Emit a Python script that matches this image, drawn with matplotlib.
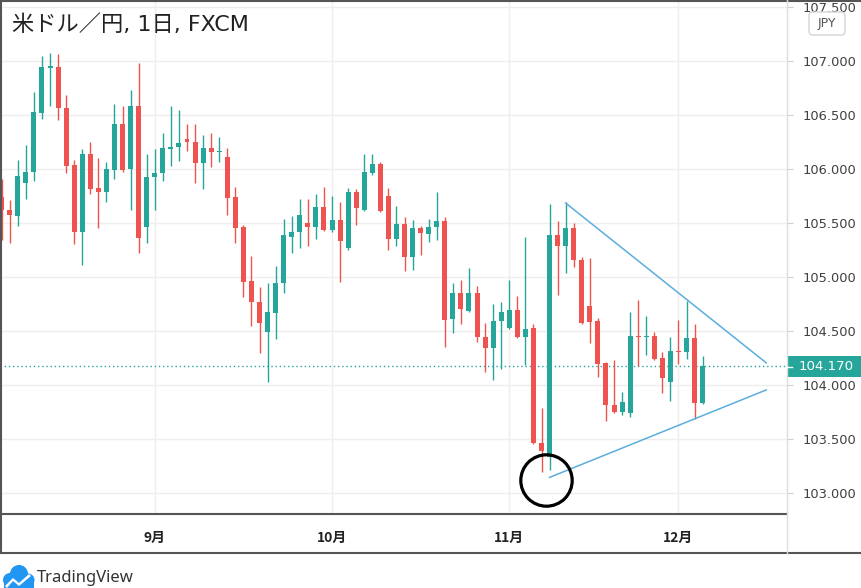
import numpy as np
import pandas as pd
import matplotlib
matplotlib.use('Agg')
import matplotlib.pyplot as plt
from matplotlib.patches import Rectangle, FancyBboxPatch, Circle, Polygon

plt.rcParams['font.family'] = ['DejaVu Sans', 'Noto Sans CJK JP']

# USD/JPY daily candles, FXCM, 2020-08-05 .. 2020-12-04
dates = pd.bdate_range('2020-08-05', '2020-12-04')
opens = [105.74, 105.62, 105.56, 105.87, 105.97, 106.51, 106.93, 106.94, 106.56, 106.03,
         105.41, 106.13, 105.82, 105.78, 105.99, 106.41, 106.00, 106.58, 105.46, 105.92,
         105.96, 106.18, 106.20, 106.27, 106.25, 106.05, 106.19, 106.15, 106.11, 105.74,
         105.46, 104.96, 104.76, 104.49, 104.66, 104.94, 105.37, 105.41, 105.50, 105.46,
         105.64, 105.43, 105.52, 105.26, 105.78, 105.62, 105.96, 106.04, 105.75, 105.35,
         105.49, 105.18, 105.45, 105.39, 105.46, 105.51, 104.61, 104.85, 104.68, 104.85,
         104.44, 104.34, 104.59, 104.52, 104.69, 104.44, 104.52, 103.46, 103.33, 105.38,
         105.28, 105.45, 105.15, 104.73, 104.59, 104.20, 103.81, 103.75, 103.74, 104.45,
         104.44, 104.45, 104.25, 104.02, 104.31, 104.30, 104.43, 103.83]
highs = [105.90, 105.71, 106.08, 106.22, 106.71, 107.04, 107.07, 107.06, 106.68, 106.08,
         106.18, 106.25, 106.10, 106.06, 106.60, 106.58, 106.73, 106.98, 106.13, 106.18,
         106.33, 106.58, 106.54, 106.41, 106.41, 106.31, 106.33, 106.29, 106.19, 105.83,
         105.48, 105.19, 104.90, 104.94, 105.10, 105.53, 105.56, 105.72, 105.72, 105.76,
         105.83, 105.75, 105.69, 105.82, 105.81, 106.13, 106.13, 106.06, 105.82, 105.65,
         105.55, 105.52, 105.47, 105.53, 105.78, 105.55, 104.94, 104.97, 105.08, 104.91,
         104.57, 104.75, 104.76, 104.97, 104.82, 105.37, 104.56, 103.78, 105.67, 105.51,
         105.69, 105.50, 105.18, 105.17, 104.62, 104.21, 104.23, 103.93, 104.67, 104.78,
         104.63, 104.49, 104.30, 104.44, 104.60, 104.77, 104.56, 104.26]
lows = [105.34, 105.31, 105.47, 105.72, 105.88, 106.46, 106.58, 106.45, 105.96, 105.30,
        105.11, 105.76, 105.45, 105.69, 105.90, 105.97, 105.62, 105.22, 105.31, 105.62,
        105.88, 106.02, 106.07, 106.16, 105.87, 105.81, 106.01, 106.06, 105.57, 105.31,
        104.81, 104.54, 104.29, 104.02, 104.42, 104.85, 105.22, 105.26, 105.28, 105.35,
        105.42, 105.41, 104.95, 105.25, 105.48, 105.61, 105.94, 105.60, 105.25, 105.28,
        105.05, 105.06, 105.20, 105.32, 105.34, 104.35, 104.48, 104.56, 104.67, 104.39,
        104.12, 104.04, 104.14, 104.51, 104.43, 104.18, 103.45, 103.19, 103.21, 104.83,
        105.03, 105.09, 104.56, 104.38, 104.07, 103.66, 103.74, 103.72, 103.70, 104.17,
        104.27, 104.23, 103.92, 103.85, 104.19, 104.24, 103.68, 103.82]
closes = [105.62, 105.57, 105.93, 105.97, 106.52, 106.94, 106.95, 106.56, 106.02, 105.41,
          106.13, 105.81, 105.78, 106.00, 106.41, 105.99, 106.58, 105.36, 105.92, 105.96,
          106.19, 106.20, 106.24, 106.25, 106.05, 106.19, 106.15, 106.16, 105.73, 105.45,
          104.95, 104.76, 104.57, 104.67, 104.94, 105.38, 105.41, 105.57, 105.46, 105.64,
          105.43, 105.52, 105.33, 105.78, 105.63, 105.97, 106.04, 105.61, 105.35, 105.49,
          105.18, 105.45, 105.40, 105.46, 105.51, 104.60, 104.85, 104.70, 104.85, 104.44,
          104.34, 104.59, 104.67, 104.69, 104.44, 104.51, 103.46, 103.38, 105.38, 105.28,
          105.45, 105.15, 104.57, 104.58, 104.19, 103.81, 103.75, 103.84, 104.45, 104.44,
          104.45, 104.24, 104.06, 104.31, 104.30, 104.43, 103.83, 104.17]

last_price = 104.170
price_ticks = [103.0, 103.5, 104.0, 104.5, 105.0, 105.5, 106.0, 106.5, 107.0, 107.5]
month_labels = ['9月', '10月', '11月', '12月']

# hand drawn triangle (bar index, price) and the circle mark
upper_line = [(70.0, 105.68), (94.9, 104.20)]
lower_line = [(68.0, 103.14), (94.9, 103.95)]
circle_mark = (67.5, 103.12)

up_col = '#26a69a'
down_col = '#ef5350'

fig = plt.figure(figsize=(8.61, 5.88), dpi=100)
ax = fig.add_axes([0, 74 / 588, 787 / 861, 514.5 / 588])

x = np.arange(len(dates))
o = np.array(opens)
c = np.array(closes)
colors = [up_col if cc >= oo else down_col for oo, cc in zip(o, c)]
ax.vlines(x, lows, highs, colors=colors, linewidth=1, zorder=3)
body_low = np.minimum(o, c)
body_h = np.maximum(np.abs(c - o), 0.012)
ax.bar(x, body_h, bottom=body_low, width=0.62, color=colors, zorder=4)

# month ticks at first bar of each month
month_start = [int(np.argmax(dates.month == m)) for m in [9, 10, 11, 12]]

ax.set_xlim(-0.21, 97.47)
ax.set_ylim(102.801, 107.565)
ax.set_yticks(price_ticks)
ax.set_yticklabels(['%.3f' % p for p in price_ticks])
ax.yaxis.tick_right()
ax.tick_params(axis='y', length=4, color='#cfcfcf', pad=7, labelsize=9.4, labelcolor='#404040')
ax.set_xticks(month_start)
ax.set_xticklabels(month_labels, fontweight='bold', fontsize=10,
                   family=['Noto Sans CJK JP', 'DejaVu Sans'])
ax.tick_params(axis='x', length=0, pad=12, labelcolor='#222222')
ax.grid(True, color='#eeeeee', linewidth=1, zorder=0)
for s in ['left', 'top', 'right']:
    ax.spines[s].set_visible(False)
ax.spines['bottom'].set_color('#555555')
ax.spines['bottom'].set_linewidth(1.5)

ax.axhline(last_price, color=up_col, linestyle=(0, (1, 2)), linewidth=1, zorder=2)

lc = '#5aaede'
ax.plot([p[0] for p in upper_line], [p[1] for p in upper_line], color=lc, linewidth=1.1, zorder=5)
ax.plot([p[0] for p in lower_line], [p[1] for p in lower_line], color=lc, linewidth=1.1, zorder=5)
ax.plot(circle_mark[0], circle_mark[1], marker='o', markersize=37, fillstyle='none',
        markeredgecolor='black', markeredgewidth=2.3, zorder=6)

# overlay in pixel coordinates for frame, title, labels and logo
ov = fig.add_axes([0, 0, 1, 1], zorder=10)
ov.set_xlim(0, 861)
ov.set_ylim(588, 0)
ov.axis('off')
ov.patch.set_visible(False)

ov.plot([0, 861], [0.8, 0.8], color='#555555', linewidth=1.5)
ov.plot([0.8, 0.8], [0, 553], color='#555555', linewidth=1.5)
ov.plot([0, 861], [553, 553], color='#555555', linewidth=1.5)
ov.plot([787, 787], [0, 553], color='#dddddd', linewidth=1)

ov.text(12, 25, '米ドル／円, 1日, FXCM', fontsize=16, color='#222222', va='center', ha='left')

ov.add_patch(FancyBboxPatch((809, 12), 36, 23, boxstyle='round,pad=0,rounding_size=4',
                            facecolor='white', edgecolor='#d5d5d5', linewidth=1))
ov.text(827, 23.5, 'JPY', fontsize=9, color='#555555', ha='center', va='center')

ov.add_patch(Rectangle((787, 356), 74, 21, facecolor=up_col, edgecolor='none'))
ov.plot([787, 792], [366.5, 366.5], color='white', linewidth=1)
ov.text(799, 366.5, '%.3f' % last_price, fontsize=9.6, color='white', ha='left', va='center')

# TradingView logo
blue = '#2196f3'
for cx, cy, r in [(10, 580, 7), (19, 574, 9), (28, 580, 6.5)]:
    ov.add_patch(Circle((cx, cy), r, facecolor=blue, edgecolor='none'))
ov.add_patch(Rectangle((4, 580), 30, 8, facecolor=blue, edgecolor='none'))
ov.add_patch(Polygon([(5, 586), (13, 578), (19, 583), (29, 574), (31, 576), (19, 586), (13, 581), (7, 588)],
                     closed=True, facecolor='white', edgecolor='none'))
ov.text(37, 578, 'TradingView', fontsize=12, color='#333333', ha='left', va='center', family='Noto Sans')

fig.savefig('out.png', dpi=100)
